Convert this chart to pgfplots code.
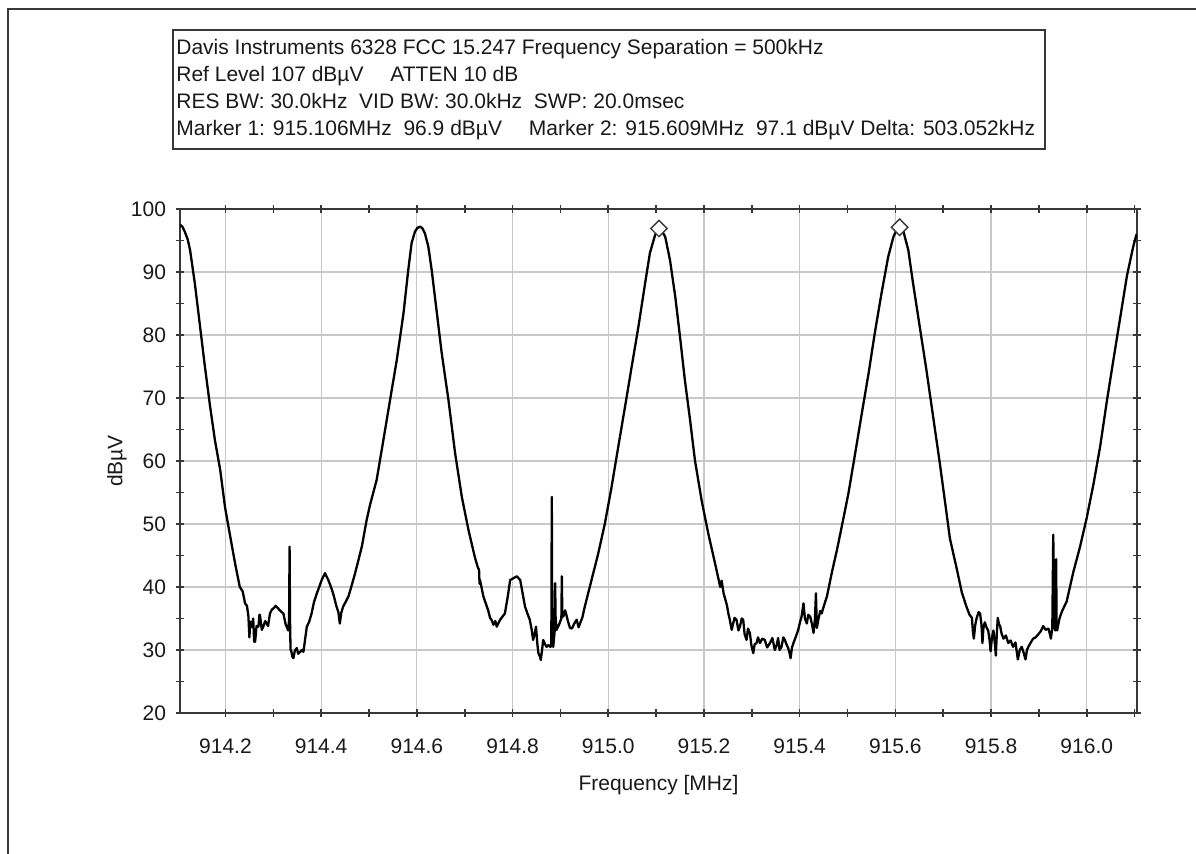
\documentclass[border=0pt]{standalone}
\usepackage{fontspec}
\setmainfont{Liberation Sans}
\usepackage{pgfplots}
\pgfplotsset{compat=1.18}

\definecolor{gridgray}{RGB}{200,200,200}
\definecolor{axisgray}{RGB}{55,55,55}
\newcommand{\chartfont}{\fontsize{10.5pt}{12pt}\selectfont}

\begin{document}
\begin{tikzpicture}
\useasboundingbox (0,0) rectangle (598pt,427pt);
% outer frame (left and top edges)
\draw[line width=1pt, axisgray] (4pt,0) -- (4pt,422.5pt) -- (598pt,422.5pt);

% header box
\draw[line width=0.8pt, axisgray] (86.5pt,352.5pt) rectangle (522.5pt,412pt);
\begin{scope}[every node/.style={anchor=base west, inner sep=0pt, font=\chartfont, text=black!90}]
\node at (88pt,399.85pt) {Davis Instruments 6328 FCC 15.247 Frequency Separation = 500kHz};
\node at (88pt,386.15pt) {Ref Level 107 dBµV\quad\ ATTEN 10 dB};
\node at (88pt,372.5pt) {RES BW: 30.0kHz\ \ VID BW: 30.0kHz\ \ SWP: 20.0msec};
\node at (88pt,359.15pt) {Marker 1: 915.106MHz\ \ 96.9 dBµV\quad\ Marker 2: 915.609MHz\ \ 97.1 dBµV Delta: 503.052kHz};
\end{scope}

% y axis title
\node[rotate=90, anchor=center, font=\chartfont, text=black!90] at (58.5pt,196.5pt) {dBµV};

\begin{axis}[
  at={(90pt,70.5pt)}, anchor=south west,
  scale only axis, width=478.5pt, height=252pt,
  xmin=914.105, xmax=916.105, ymin=20, ymax=100,
  xtick={914.2,914.4,914.6,914.8,915.0,915.2,915.4,915.6,915.8,916.0},
  minor xtick={914.3,914.5,914.7,914.9,915.1,915.3,915.5,915.7,915.9,916.1},
  ytick={20,30,40,50,60,70,80,90,100},
  minor ytick={25,35,45,55,65,75,85,95},
  scaled x ticks=false,
  x tick label style={/pgf/number format/fixed, /pgf/number format/fixed zerofill,
    /pgf/number format/precision=1, /pgf/number format/1000 sep={}},
  /pgf/number format/assume math mode=true,
  tick label style={font=\chartfont, text=black!90},
  xticklabel style={anchor=base, yshift=-18.3pt},
  yticklabel style={anchor=east, xshift=-1.5pt},
  grid=major,
  major grid style={draw=gridgray, line width=0.6pt},
  axis line style={line width=1pt, draw=axisgray},
  tick align=center,
  major tick length=4pt, minor tick length=4pt,
  every tick/.style={line width=0.8pt, draw=axisgray},
  xlabel={Frequency [MHz]},
  label style={font=\chartfont, text=black!90},
  xlabel style={at={(axis description cs:0.5,-0.143)}, anchor=center},
  clip=true,
]
% measured spectrum trace
\addplot[black, line width=1.15pt, line join=round] coordinates {
(914.105,97.5) (914.110,97.2) (914.115,96.4) (914.121,95.2) (914.126,93.5) (914.136,88.2)
(914.147,81.3) (914.157,75.0) (914.168,68.6) (914.178,63.3) (914.189,58.6) (914.199,52.7)
(914.210,48.0) (914.220,43.8) (914.230,40.0) (914.236,39.3) (914.241,37.4) (914.245,37.0)
(914.248,35.3) (914.250,32.0) (914.252,34.5) (914.255,33.7) (914.258,35.0) (914.260,31.3)
(914.262,31.3) (914.265,33.8) (914.269,33.7) (914.271,35.6) (914.272,35.6) (914.276,33.2)
(914.279,33.7) (914.283,34.6) (914.286,34.2) (914.289,33.8) (914.293,35.8) (914.297,36.4)
(914.300,36.6) (914.305,37.0) (914.310,36.6) (914.316,36.1) (914.321,35.8) (914.326,34.0)
(914.328,33.7) (914.331,33.1) (914.333,34.8) (914.334,46.4) (914.335,34.5) (914.336,30.0)
(914.337,30.0) (914.340,28.9) (914.342,28.7) (914.345,29.9) (914.349,30.3) (914.352,29.4)
(914.356,29.7) (914.360,30.0) (914.363,29.7) (914.367,32.0) (914.370,33.7) (914.375,34.5)
(914.380,35.8) (914.385,37.6) (914.391,39.0) (914.396,40.0) (914.401,41.1) (914.408,42.2)
(914.415,41.1) (914.420,40.1) (914.425,39.0) (914.432,36.9) (914.436,36.0) (914.439,34.2)
(914.442,35.9) (914.446,36.9) (914.451,37.6) (914.457,38.5) (914.464,40.3) (914.471,42.2)
(914.478,44.3) (914.485,46.4) (914.495,50.6) (914.502,53.0) (914.516,57.0) (914.530,63.3)
(914.544,69.7) (914.558,76.0) (914.572,83.4) (914.582,90.3) (914.589,94.6) (914.596,96.4)
(914.601,97.0) (914.607,97.2) (914.612,96.9) (914.617,96.1) (914.624,94.0) (914.631,90.3)
(914.641,84.0) (914.652,77.1) (914.666,69.7) (914.680,61.2) (914.694,54.3) (914.708,49.0)
(914.721,44.8) (914.727,43.2) (914.730,42.7) (914.731,40.5) (914.732,41.1) (914.739,38.5)
(914.744,37.4) (914.749,36.3) (914.753,35.1) (914.756,34.8) (914.760,34.0) (914.764,34.6)
(914.767,33.7) (914.770,34.2) (914.774,34.8) (914.779,35.3) (914.784,35.8) (914.790,38.5)
(914.795,41.1) (914.802,41.4) (914.809,41.7) (914.816,41.1) (914.821,39.0) (914.826,36.9)
(914.831,35.8) (914.836,34.8) (914.840,33.2) (914.843,31.6) (914.846,32.5) (914.849,33.7)
(914.852,30.8) (914.854,29.5) (914.857,29.0) (914.859,28.4) (914.862,30.2) (914.864,31.6)
(914.868,30.9) (914.871,30.5) (914.875,30.8) (914.878,30.5) (914.881,30.6) (914.882,54.3)
(914.883,31.0) (914.885,30.5) (914.888,33.0) (914.889,40.6) (914.890,35.0) (914.892,33.2)
(914.897,34.0) (914.902,35.0) (914.903,41.7) (914.904,35.5) (914.906,35.3) (914.910,36.3)
(914.916,34.5) (914.920,33.5) (914.924,33.4) (914.929,34.2) (914.934,34.8) (914.938,33.6)
(914.941,34.2) (914.946,35.2) (914.951,36.9) (914.965,41.1) (914.979,45.3) (914.993,50.1)
(915.007,55.9) (915.021,62.3) (915.035,68.6) (915.049,75.0) (915.063,81.3) (915.077,88.2)
(915.087,93.0) (915.098,95.9) (915.106,96.9) (915.112,96.5) (915.119,95.6) (915.129,91.9)
(915.140,86.1) (915.150,79.7) (915.160,72.9) (915.171,66.5) (915.181,60.2) (915.195,53.8)
(915.209,48.5) (915.223,43.8) (915.230,41.4) (915.234,40.0) (915.237,41.0) (915.241,39.0)
(915.244,38.2) (915.248,37.1) (915.251,35.8) (915.254,34.8) (915.258,33.2) (915.261,34.2)
(915.264,35.1) (915.268,34.8) (915.272,33.1) (915.275,33.7) (915.279,35.0) (915.282,34.8)
(915.285,32.5) (915.289,31.6) (915.292,33.4) (915.296,32.7) (915.299,30.8) (915.303,29.5)
(915.306,30.9) (915.310,31.1) (915.313,32.0) (915.317,31.1) (915.322,31.8) (915.327,31.6)
(915.332,30.4) (915.338,31.1) (915.343,31.9) (915.348,30.0) (915.352,30.8) (915.355,31.9)
(915.358,30.0) (915.362,30.5) (915.366,32.0) (915.369,31.6) (915.373,30.8) (915.376,30.3)
(915.379,29.5) (915.381,28.7) (915.384,30.4) (915.387,31.1) (915.392,32.1) (915.397,33.2)
(915.401,34.5) (915.404,35.3) (915.408,37.4) (915.411,35.0) (915.415,34.2) (915.418,35.6)
(915.422,35.3) (915.426,34.0) (915.429,32.7) (915.432,35.0) (915.434,39.0) (915.436,33.5)
(915.439,34.8) (915.443,36.2) (915.446,35.8) (915.451,37.1) (915.457,38.5) (915.467,42.2)
(915.478,45.9) (915.488,49.6) (915.502,54.9) (915.516,61.2) (915.530,67.6) (915.544,73.9)
(915.557,80.3) (915.571,86.6) (915.585,92.4) (915.596,95.6) (915.603,96.7) (915.609,97.1)
(915.617,96.4) (915.627,93.5) (915.637,88.2) (915.651,81.3) (915.665,74.4) (915.679,67.0)
(915.693,59.6) (915.707,51.7) (915.714,47.7) (915.728,43.0) (915.739,39.1) (915.749,36.8)
(915.755,35.6) (915.760,35.1) (915.762,33.0) (915.764,31.8) (915.767,34.0) (915.770,35.1)
(915.774,36.0) (915.777,35.8) (915.780,34.0) (915.782,31.1) (915.784,33.5) (915.787,34.4)
(915.791,33.5) (915.794,33.1) (915.797,31.5) (915.799,29.8) (915.802,32.0) (915.805,33.1)
(915.808,31.0) (915.810,29.1) (915.812,32.5) (915.814,35.1) (915.817,34.0) (915.819,33.8)
(915.822,32.6) (915.826,31.8) (915.831,32.3) (915.836,31.1) (915.841,31.5) (915.846,30.5)
(915.851,31.2) (915.856,28.5) (915.860,30.0) (915.864,30.5) (915.868,29.6) (915.872,28.5)
(915.875,30.0) (915.878,30.5) (915.883,31.2) (915.888,31.8) (915.893,32.0) (915.899,32.5)
(915.904,33.0) (915.909,33.8) (915.914,33.2) (915.920,33.4) (915.923,32.5) (915.925,31.8)
(915.928,33.5) (915.930,48.3) (915.932,34.0) (915.934,33.1) (915.935,38.0) (915.936,44.4)
(915.937,34.0) (915.938,33.1) (915.943,35.0) (915.948,36.1) (915.958,37.7) (915.972,42.4)
(915.986,46.4) (916.000,51.0) (916.014,56.3) (916.028,62.3) (916.042,69.5) (916.056,76.2)
(916.070,82.8) (916.084,89.4) (916.097,94.0) (916.104,96.0)
};
% markers 1 and 2
\addplot[only marks, mark=square*, mark size=2.9pt,
  mark options={rotate=45, fill=white, draw=axisgray, line width=0.7pt}]
  coordinates {(915.106,96.9) (915.609,97.1)};
\end{axis}
\end{tikzpicture}
\end{document}
